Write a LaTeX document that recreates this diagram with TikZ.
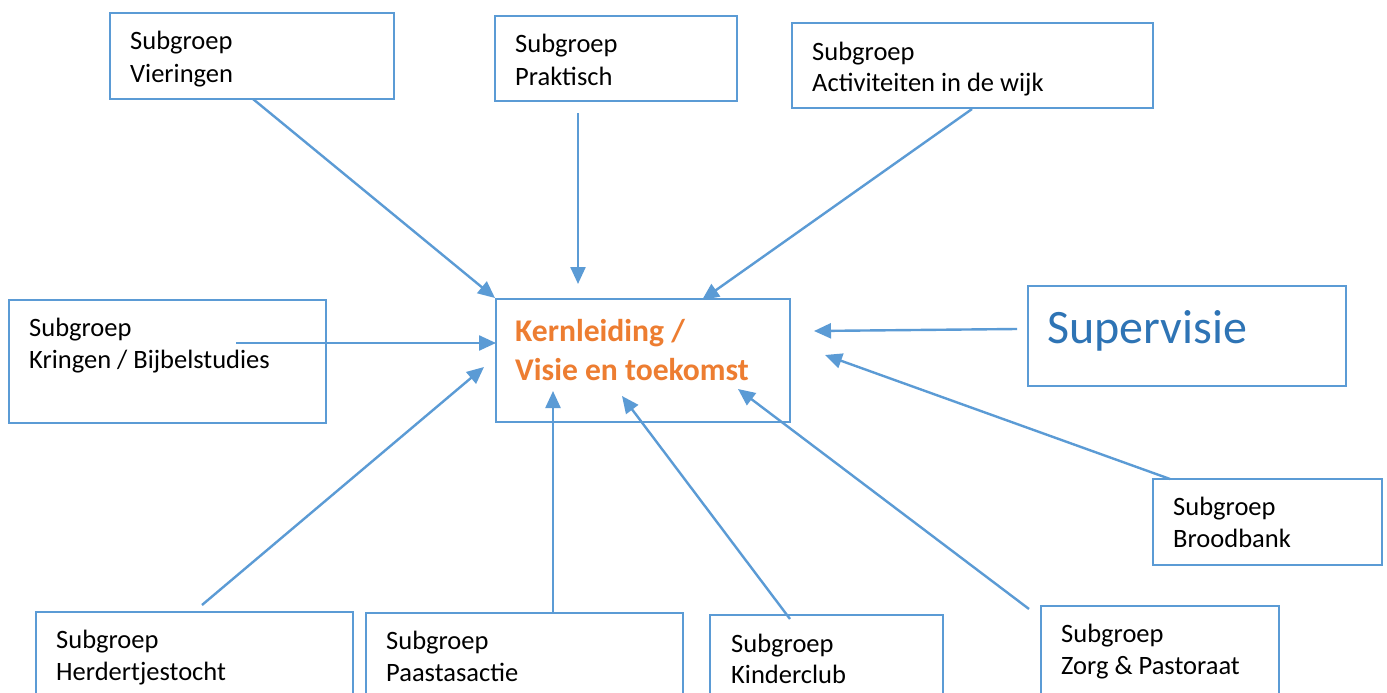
\documentclass[tikz,border=0pt]{standalone}
\usepackage{fontspec}
\setmainfont{Carlito}
\usetikzlibrary{arrows.meta}
\definecolor{lineblue}{HTML}{5B9BD5}
\definecolor{kernorange}{HTML}{ED7D31}
\definecolor{supblue}{HTML}{2E74B5}
\tikzset{
  box/.style={draw=lineblue, line width=1.8pt, fill=white, anchor=north west, inner sep=0pt, outer sep=0pt},
  lbl/.style={anchor=base west, inner sep=0pt, font=\fontsize{26.5}{32}\selectfont},
  kern/.style={anchor=base west, inner sep=0pt, text=kernorange, font=\fontsize{31.6}{39}\selectfont\bfseries},
  arr/.style={draw=lineblue, line width=2.4pt, -{Triangle[length=17pt,width=15pt]}},
}
\begin{document}
\begin{tikzpicture}[x=1pt,y=-1pt]
\clip (0,0) rectangle (1387,693);
\fill[white] (0,0) rectangle (1387,693);
% boxes
\node[box, minimum width=284, minimum height=86] (vier) at (110,13) {};
\node[box, minimum width=242, minimum height=85] (prak) at (495,16) {};
\node[box, minimum width=361, minimum height=85] (acti) at (792,23) {};
\node[box, minimum width=317, minimum height=123] (krin) at (9,300) {};
\node[box, minimum width=294, minimum height=123] (kern) at (496,299) {};
\node[box, minimum width=318, minimum height=100] (supe) at (1028,286) {};
\node[box, minimum width=229, minimum height=86] (broo) at (1153,479) {};
\node[box, minimum width=317, minimum height=140] (herd) at (36,612) {};
\node[box, minimum width=317, minimum height=140] (paas) at (366,613) {};
\node[box, minimum width=233, minimum height=140] (kind) at (710,615) {};
\node[box, minimum width=238, minimum height=140] (zorg) at (1041,606) {};
% texts
\node[lbl] (t1a) at (130,50) {Subgroep};
\node[lbl] (t1b) at (130,82) {Vieringen};
\node[lbl] (t2a) at (515,53) {Subgroep};
\node[lbl] (t2b) at (515,85) {Praktisch};
\node[lbl] (t3a) at (812,60) {Subgroep};
\node[lbl] (t3b) at (812,92) {Activiteiten in de wijk};
\node[lbl] (t4a) at (29,336) {Subgroep};
\node[lbl] (t4b) at (29,368) {Kringen / Bijbelstudies};
\node[kern] (t5a) at (515,341) {Kernleiding /};
\node[kern] (t5b) at (515,380) {Visie en toekomst};
\node[anchor=base west, inner sep=0pt, text=supblue, font=\fontsize{48}{58}\selectfont] (t6) at (1047,343) {Supervisie};
\node[lbl] (t7a) at (1173,515) {Subgroep};
\node[lbl] (t7b) at (1173,547) {Broodbank};
\node[lbl] (t8a) at (56,648) {Subgroep};
\node[lbl] (t8b) at (56,680) {Herdertjestocht};
\node[lbl] (t9a) at (386,649) {Subgroep};
\node[lbl] (t9b) at (386,681) {Paastasactie};
\node[lbl] (t10a) at (731,652) {Subgroep};
\node[lbl] (t10b) at (731,683) {Kinderclub};
\node[lbl] (t11a) at (1061,642) {Subgroep};
\node[lbl] (t11b) at (1061,674) {Zorg \& Pastoraat};
% arrow end points
\coordinate (s1) at (253,99);   \coordinate (e1) at (495,298);
\coordinate (s2) at (578,113);  \coordinate (e2) at (578,284);
\coordinate (s3) at (972,109);  \coordinate (e3) at (702,300);
\coordinate (s4) at (236,343);  \coordinate (e4) at (496,343);
\coordinate (s6) at (1017,329); \coordinate (e6) at (814,331);
\coordinate (s7) at (1170,479); \coordinate (e7) at (825,355);
\coordinate (s8) at (202,605);  \coordinate (e8) at (484,367);
\coordinate (s9) at (553,612);  \coordinate (e9) at (553,391);
\coordinate (s10) at (790,619); \coordinate (e10) at (622,396);
\coordinate (s11) at (1029,609);\coordinate (e11) at (738,389);
% arrows
\draw[arr] (s1) -- (e1);
\draw[arr] (s2) -- (e2);
\draw[arr] (s3) -- (e3);
\draw[arr] (s4) -- (e4);
\draw[arr] (s6) -- (e6);
\draw[arr] (s7) -- (e7);
\draw[arr] (s8) -- (e8);
\draw[arr] (s9) -- (e9);
\draw[arr] (s10) -- (e10);
\draw[arr] (s11) -- (e11);
\end{tikzpicture}
\end{document}
